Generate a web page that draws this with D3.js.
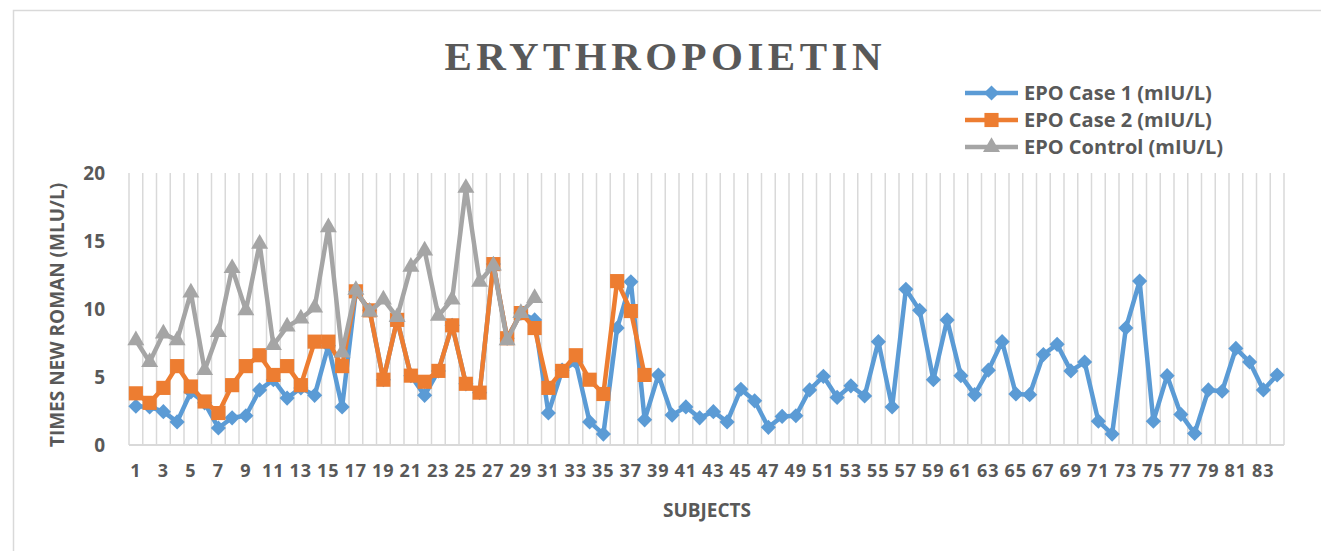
<!DOCTYPE html>
<html>
<head>
<meta charset="utf-8">
<script src="https://cdn.jsdelivr.net/npm/d3@7"></script>
<style>
  body { margin: 0; background: #fff; }
  text { font-family: "Open Sans", sans-serif; fill: #595959; }
</style>
</head>
<body>
<div id="chart"></div>
<script>
// Data
var subjects = d3.range(1, 85);
var case1 = [2.85, 2.8, 2.45, 1.7, 3.9, 3.1, 1.25, 2.0, 2.15, 4.05,
  4.8, 3.45, 4.2, 3.65, 7.3, 2.8, 11.3, 9.9, 4.8, 9.2,
  5.1, 3.65, 5.45, 8.8, 4.5, 3.85, 13.3, 7.85, 9.7, 9.2,
  2.35, 5.5, 6.1, 1.7, 0.8, 8.6, 12.0, 1.85, 5.15, 2.2,
  2.8, 2.0, 2.45, 1.7, 4.1, 3.25, 1.3, 2.1, 2.15, 4.05,
  5.05, 3.5, 4.35, 3.6, 7.6, 2.8, 11.45, 9.9, 4.8, 9.2,
  5.1, 3.7, 5.5, 7.6, 3.75, 3.7, 6.65, 7.4, 5.45, 6.1,
  1.75, 0.8, 8.6, 12.05, 1.75, 5.1, 2.25, 0.85, 4.05, 3.95,
  7.1, 6.1, 4.05, 5.15];
var case2 = [3.8, 3.1, 4.2, 5.8, 4.3, 3.2, 2.35, 4.4, 5.8, 6.6,
  5.15, 5.8, 4.4, 7.6, 7.6, 5.8, 11.3, 9.9, 4.8, 9.2,
  5.1, 4.65, 5.45, 8.8, 4.5, 3.85, 13.3, 7.85, 9.7, 8.6,
  4.2, 5.45, 6.6, 4.8, 3.75, 12.05, 9.85, 5.15];
var control = [7.7, 6.1, 8.2, 7.7, 11.2, 5.5, 8.3, 13.0, 9.9, 14.8,
  7.35, 8.7, 9.3, 10.1, 16.0, 6.8, 11.4, 9.8, 10.7, 9.4,
  13.1, 14.3, 9.5, 10.7, 18.9, 12.0, 13.2, 7.7, 9.7, 10.8];
var seriesNames = ["EPO Case 1 (mIU/L)", "EPO Case 2 (mIU/L)", "EPO Control (mIU/L)"];
var yTicks = [0, 5, 10, 15, 20];
var xTicks = subjects.filter(function(d) { return d % 2 === 1; });

var svgWidth = 1321;
var svgHeight = 551;
var plot = { left: 129, right: 1284, top: 173, bottom: 445 };

var svg = d3.select("#chart")
  .append("svg")
  .attr("width", svgWidth)
  .attr("height", svgHeight);

// chart frame
svg.append("rect")
  .attr("x", 13.5).attr("y", 10.5)
  .attr("width", 1320).attr("height", 560)
  .attr("fill", "none")
  .attr("stroke", "#d9d9d9")
  .attr("stroke-width", 1.5);

var x = d3.scaleBand().domain(subjects).range([plot.left, plot.right]).padding(0);
var y = d3.scaleLinear().domain([0, 20]).range([plot.bottom, plot.top]);
var cx = function(i) { return x(subjects[i]) + x.bandwidth() / 2; };

// vertical gridlines at category borders
var borders = subjects.map(function(d) { return x(d); }).concat([plot.right]);
svg.append("g").selectAll("line")
  .data(borders)
  .enter().append("line")
  .attr("x1", d => d).attr("x2", d => d)
  .attr("y1", y(20)).attr("y2", y(0))
  .attr("stroke", "#d9d9d9")
  .attr("stroke-width", 1.5);

// axis line
svg.append("line")
  .attr("x1", plot.left).attr("x2", plot.right)
  .attr("y1", y(0)).attr("y2", y(0))
  .attr("stroke", "#d9d9d9")
  .attr("stroke-width", 2);

// y axis
var yAxis = svg.append("g")
  .attr("transform", `translate(${plot.left}, 0)`)
  .call(d3.axisLeft(y).tickValues(yTicks).tickSize(0).tickPadding(24));
yAxis.select(".domain").remove();
yAxis.selectAll("text")
  .style("font-family", "'Open Sans', sans-serif")
  .style("font-size", "19px")
  .style("font-weight", "bold")
  .attr("fill", "#595959");

// x axis
var xAxis = svg.append("g")
  .attr("transform", `translate(0, ${plot.bottom})`)
  .call(d3.axisBottom(x).tickValues(xTicks).tickSize(0).tickPadding(19));
xAxis.select(".domain").remove();
xAxis.selectAll("text")
  .style("font-family", "'Open Sans', sans-serif")
  .style("font-size", "18px")
  .style("font-weight", "bold")
  .style("letter-spacing", "1px")
  .attr("fill", "#595959");

// axis titles
svg.append("text")
  .attr("transform", "translate(64, 315) rotate(-90)")
  .attr("text-anchor", "middle")
  .style("font-size", "19px")
  .style("font-weight", "bold")
  .text("TIMES NEW ROMAN (MLU/L)");

svg.append("text")
  .attr("x", 707).attr("y", 517)
  .attr("text-anchor", "middle")
  .style("font-size", "19px")
  .style("font-weight", "bold")
  .text("SUBJECTS");

// title
svg.append("text")
  .attr("x", 663).attr("y", 70)
  .attr("text-anchor", "middle")
  .attr("textLength", 437)
  .attr("lengthAdjust", "spacing")
  .style("font-family", "'Liberation Serif', 'Times New Roman', serif")
  .style("font-size", "41px")
  .style("font-weight", "bold")
  .text("ERYTHROPOIETIN");

// series
var colours = ["#5b9bd5", "#ed7d31", "#a5a5a5"];
var symbols = [
  d3.symbol().type(d3.symbolSquare).size(115),
  d3.symbol().type(d3.symbolSquare).size(200),
  d3.symbol().type(d3.symbolTriangle).size(125)
];
var rotations = [45, 0, 0];
var allSeries = [case1, case2, control];

var line = d3.line()
  .x((d, i) => cx(i))
  .y(d => y(d));

allSeries.forEach(function(values, s) {
  var g = svg.append("g");
  g.append("path")
    .datum(values)
    .attr("d", line)
    .attr("fill", "none")
    .attr("stroke", colours[s])
    .attr("stroke-width", 4.5)
    .attr("stroke-linejoin", "round");
  g.selectAll("path.marker")
    .data(values)
    .enter().append("path")
    .attr("class", "marker")
    .attr("d", symbols[s])
    .attr("transform", (d, i) => `translate(${cx(i)}, ${y(d)}) rotate(${rotations[s]})`)
    .attr("fill", colours[s]);
});

// legend
var legendY = [93, 120, 147];
var legend = svg.append("g");
seriesNames.forEach(function(name, s) {
  legend.append("line")
    .attr("x1", 965).attr("x2", 1018)
    .attr("y1", legendY[s]).attr("y2", legendY[s])
    .attr("stroke", colours[s])
    .attr("stroke-width", 4.5);
  legend.append("path")
    .attr("d", symbols[s])
    .attr("transform", `translate(991.5, ${legendY[s]}) rotate(${rotations[s]})`)
    .attr("fill", colours[s]);
  legend.append("text")
    .attr("x", 1024).attr("y", legendY[s] + 7)
    .style("font-size", "20px")
    .style("font-weight", "bold")
    .text(name);
});
</script>
</body>
</html>
